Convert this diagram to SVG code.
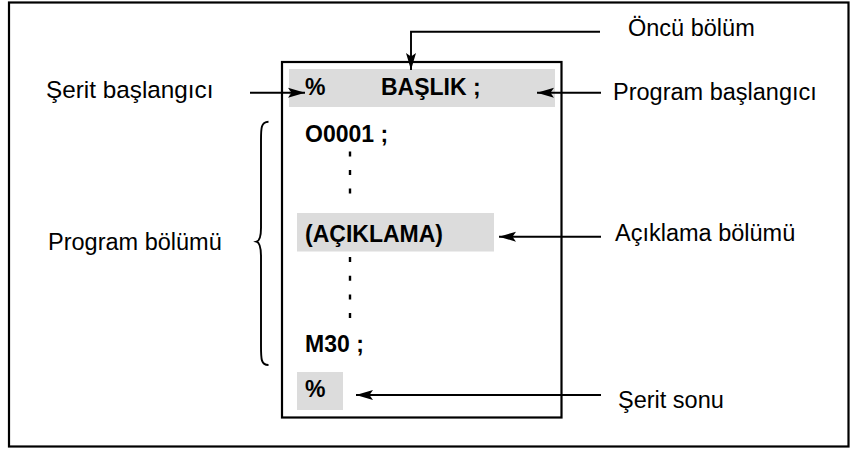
<svg xmlns="http://www.w3.org/2000/svg" width="854" height="449" viewBox="0 0 854 449">
<style>
.lbl{font-family:"Liberation Sans",Arial,sans-serif;font-size:23.5px;fill:#000}
.code{font-family:"Liberation Sans",Arial,sans-serif;font-size:23px;font-weight:bold;fill:#000}
.hl{fill:#dcdcdc}
.ln{fill:none;stroke:#000;stroke-width:1.9}
.dot{fill:none;stroke:#000;stroke-width:2.4}
</style>
<defs>
<marker id="ah" viewBox="0 0 17 11" refX="17" refY="5.5" markerWidth="17" markerHeight="11" markerUnits="userSpaceOnUse" orient="auto">
<path d="M0,0.5 L17,5.5 L0,10.5 L3.5,5.5 Z" fill="#000"/>
</marker>
</defs>
<rect x="9" y="2.5" width="839.5" height="444" fill="#fff" stroke="#000" stroke-width="2.2"/>
<g id="program-box">
<rect x="282" y="62" width="279.5" height="355.5" fill="#fff" stroke="#000" stroke-width="2.2"/>
</g>
<g id="header">
<rect class="hl" x="289" y="69" width="266" height="38"/>
<text class="code" x="305" y="95">%</text>
<text class="code" x="381" y="95">BAŞLIK ;</text>
</g>
<g id="o0001">
<text class="code" x="305" y="142">O0001 ;</text>
</g>
<g id="comment">
<rect class="hl" x="297" y="213" width="197" height="38.5"/>
<text class="code" x="305" y="241.5">(AÇIKLAMA)</text>
</g>
<g id="m30">
<text class="code" x="305" y="352">M30 ;</text>
</g>
<g id="end-percent">
<rect class="hl" x="297" y="372" width="46" height="38"/>
<text class="code" x="305" y="397">%</text>
</g>
<g id="label-oncu"><text class="lbl" x="628" y="36">Öncü bölüm</text></g>
<g id="label-serit-baslangici"><text class="lbl" x="46" y="98" style="font-size:24.3px">Şerit başlangıcı</text></g>
<g id="label-program-baslangici"><text class="lbl" x="613" y="100">Program başlangıcı</text></g>
<g id="label-program-bolumu"><text class="lbl" x="48" y="249.5">Program bölümü</text></g>
<g id="label-aciklama"><text class="lbl" x="615" y="241">Açıklama bölümü</text></g>
<g id="label-serit-sonu"><text class="lbl" x="618" y="408">Şerit sonu</text></g>
<g id="connectors">
<path class="ln" d="M600,31.7 H411 V70" marker-end="url(#ah)"/>
<path class="ln" d="M250,92.7 H305" marker-end="url(#ah)"/>
<path class="ln" d="M601,92.7 H537" marker-end="url(#ah)"/>
<path class="ln" d="M601,236.7 H499" marker-end="url(#ah)"/>
<path class="ln" d="M601,395 H356" marker-end="url(#ah)"/>
<path class="dot" d="M350,151.5 V207" stroke-dasharray="5 13.5"/>
<path class="dot" d="M350,257 V319" stroke-dasharray="5 13.7"/>
<path class="ln" d="M268.5,121.7 C261,122 261,128 261,140 V228 C261,237 259,241 256.5,241.7 C259,242.5 261,246 261,256 V346 C261,359 261,365 268.5,365"/>
</g>
</svg>
